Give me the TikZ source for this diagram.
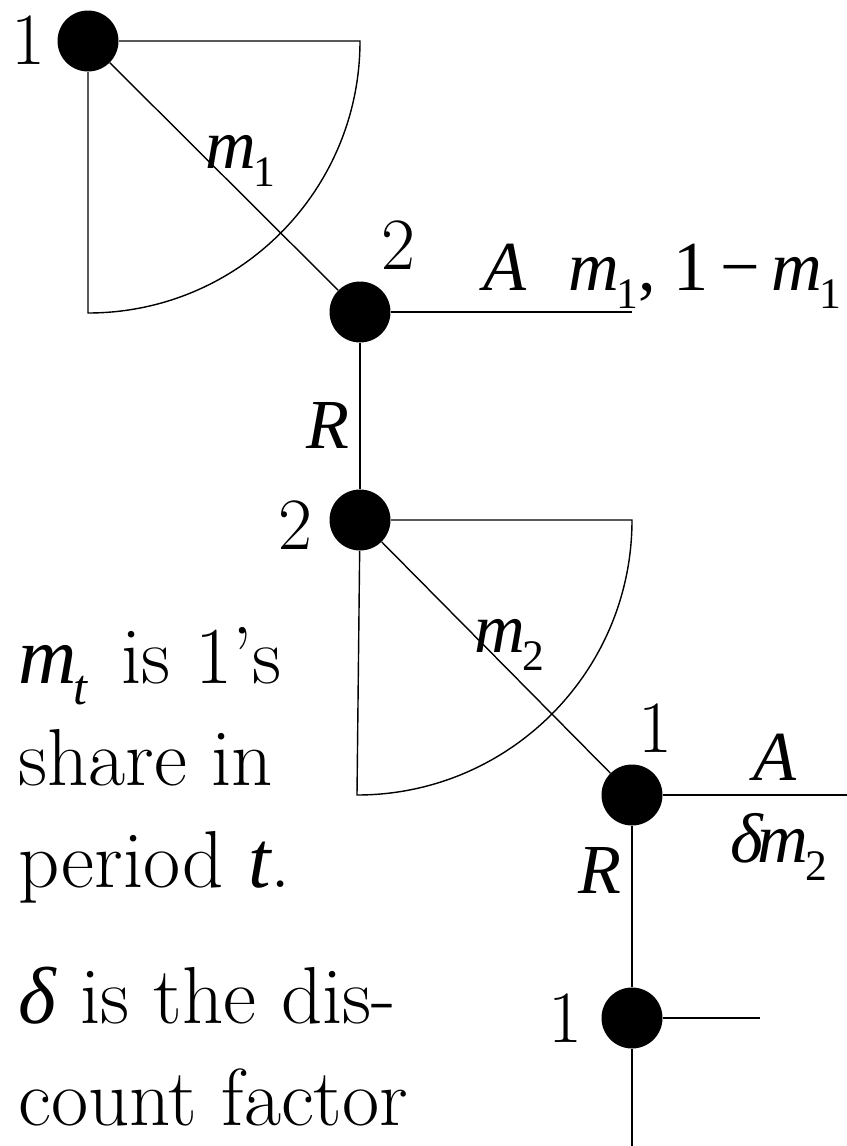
\documentclass[tikz,border=0pt]{standalone}
\usepackage{fix-cm}
\usepackage{fontspec}
\usetikzlibrary{positioning}
\newfontfamily\tms{LiberationSerif}[Extension=.ttf, UprightFont=*-Regular, ItalicFont=*-Italic]
% italic variable with a lowered subscript, Times style
\newcommand{\vsub}[2]{{\tms\itshape #1}\kern-0.04em\raisebox{-0.26em}{\scalebox{0.62}{\tms #2}}}
\newcommand{\vit}[1]{{\tms\itshape #1}}

\begin{document}
\begin{tikzpicture}[x=0.02cm, y=-0.02cm,
    dec/.style={circle, fill=black, minimum size=1.22cm, inner sep=0pt},
    lbl/.style={font=\fontsize{42}{50}\selectfont, inner sep=0pt},
    var/.style={font=\fontsize{40}{48}\selectfont, inner sep=0pt},
    note/.style={font=\fontsize{46}{58}\selectfont, inner sep=0pt, align=left, anchor=base west},
    edge/.style={line width=0.8pt},
]
\useasboundingbox (0,0) rectangle (847,1146);

% decision nodes
\node[dec] (n1) at (88, 41) {};
\node[dec] (n2) at (360, 312) {};
\node[dec] (n3) at (360, 520) {};
\node[dec] (n4) at (632, 795) {};
\node[dec] (n5) at (632, 1018) {};

% free ends
\coordinate (o1) at (360, 41);
\coordinate (o2) at (632, 312);
\coordinate (o3) at (632, 520);
\coordinate (o4) at (847, 795);
\coordinate (o5) at (760, 1018);
\coordinate (o6) at (632, 1146);

% period 1: player 1 offers
\draw[edge] (n1) -- (o1) arc[start angle=0, end angle=90, radius=272] -- (n1);
\draw[edge] (n1) -- (n2);
\draw[edge] (n2) -- (o2);
\draw[edge] (n2) -- (n3);

% period 2: player 2 offers
\draw[edge] (n3) -- (o3) arc[start angle=0, end angle=90, radius=275] -- (n3);
\draw[edge] (n3) -- (n4);
\draw[edge] (n4) -- (o4);
\draw[edge] (n4) -- (n5);
\draw[edge] (n5) -- (o5);
\draw[edge] (n5) -- (o6);

% labels
\node[lbl] (p1) at (28, 40) {1};
\node[var, anchor=base west] (s1) at (205, 168) {\vsub{m}{1}};
\node[lbl] (p2) at (398, 245) {2};
\node[var, anchor=base] (acc1) at (505, 290) {\vit{A}};
\node[var, anchor=base west] (pay1) at (568, 290) {\vsub{m}{1}{\tms, 1\,−\,}\vsub{m}{1}};
\node[var] (rej1) at (328, 425) {\vit{R}};
\node[lbl] (p3) at (295, 525) {2};
\node[var, anchor=base west] (s2) at (474, 652) {\vsub{m}{2}};
\node[lbl] (p4) at (655, 728) {1};
\node[var] (acc2) at (775, 757) {\vit{A}};
\node[var, anchor=base west] (pay2) at (730, 862) {\vit{δ}\kern-0.08em\vsub{m}{2}};
\node[var] (rej2) at (600, 870) {\vit{R}};
\node[lbl] (p5) at (565, 1018) {1};

% notes
\node[note] (txt1) at (18, 887) {\vsub{m}{\itshape t}\kern0.12em{} is 1’s\\share in\\period \vit{t}.};
\node[note] (txt2) at (18, 1125) {\vit{δ} is the dis-\\count factor};

\end{tikzpicture}
\end{document}
